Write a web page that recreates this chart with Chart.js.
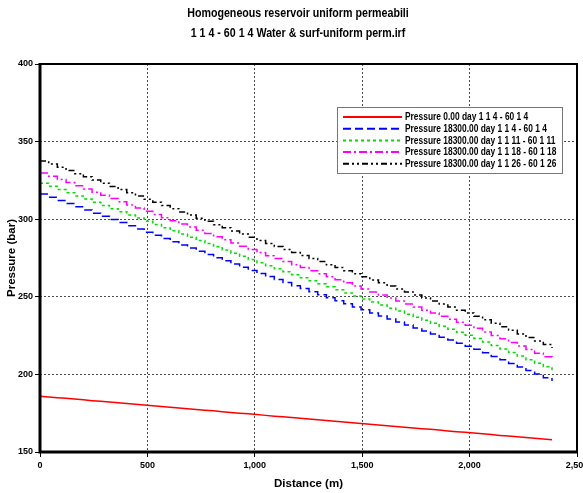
<!DOCTYPE html>
<html>
<head>
<meta charset="utf-8">
<script src="https://cdn.jsdelivr.net/npm/chart.js@4.4.1/dist/chart.umd.min.js"></script>
<style>
  html, body { margin: 0; padding: 0; background: #fff; }
  #wrap { width: 583px; height: 493px; }
</style>
</head>
<body>
<div id="wrap"><canvas id="c" width="583" height="493"></canvas></div>
<script>
const titleLines = ["Homogeneous reservoir uniform permeabili", "1 1 4 - 60 1 4 Water & surf-uniform perm.irf"];
const xTitle = "Distance (m)";
const yTitle = "Pressure (bar)";

const distance = [0, 40.4, 80.8, 121.2, 161.6, 202, 242.4, 282.8, 323.2, 363.6, 404, 444.4, 484.8, 525.2, 565.6, 606, 646.4, 686.8, 727.2, 767.6, 808, 848.4, 888.8, 929.2, 969.6, 1010, 1050.4, 1090.8, 1131.2, 1171.6, 1212, 1252.4, 1292.8, 1333.2, 1373.6, 1414, 1454.4, 1494.8, 1535.2, 1575.6, 1616, 1656.4, 1696.8, 1737.2, 1777.6, 1818, 1858.4, 1898.8, 1939.2, 1979.6, 2020, 2060.4, 2100.8, 2141.2, 2181.6, 2222, 2262.4, 2302.8, 2343.2, 2383.6];

const seriesLabels = [
  "Pressure 0.00 day 1 1 4 - 60 1 4",
  "Pressure 18300.00 day 1 1 4 - 60 1 4",
  "Pressure 18300.00 day 1 1 11 - 60 1 11",
  "Pressure 18300.00 day 1 1 18 - 60 1 18",
  "Pressure 18300.00 day 1 1 26 - 60 1 26"
];

const p0_k4 = [186.0, 185.5, 185.0, 184.6, 184.1, 183.6, 183.1, 182.7, 182.2, 181.7, 181.2, 180.8, 180.3, 179.8, 179.3, 178.9, 178.4, 177.9, 177.4, 176.9, 176.5, 176.0, 175.5, 175.0, 174.6, 174.1, 173.6, 173.1, 172.7, 172.2, 171.7, 171.2, 170.8, 170.3, 169.8, 169.3, 168.8, 168.4, 167.9, 167.4, 166.9, 166.5, 166.0, 165.5, 165.0, 164.6, 164.1, 163.6, 163.1, 162.7, 162.2, 161.7, 161.2, 160.7, 160.3, 159.8, 159.3, 158.8, 158.4, 157.9];

const p18300_k4 = [316.2, 314.2, 312.1, 310.1, 308.0, 306.0, 303.9, 301.9, 299.8, 297.8, 295.7, 293.7, 291.6, 289.6, 287.5, 285.5, 283.4, 281.4, 279.3, 277.3, 275.2, 273.2, 271.1, 269.1, 267.0, 265.0, 263.0, 261.1, 259.2, 257.2, 255.3, 253.3, 251.4, 249.4, 247.5, 245.5, 243.5, 241.6, 239.6, 237.7, 235.7, 233.8, 231.8, 229.9, 227.9, 226.0, 224.0, 222.1, 220.1, 218.2, 216.2, 213.9, 211.6, 209.4, 207.1, 204.8, 202.5, 200.2, 197.9, 195.7];

const p18300_k11 = [323.2, 321.2, 319.1, 317.1, 315.0, 313.0, 310.9, 308.9, 306.8, 304.8, 302.7, 300.7, 298.6, 296.6, 294.5, 292.5, 290.4, 288.4, 286.3, 284.3, 282.2, 280.2, 278.1, 276.1, 274.0, 272.0, 270.0, 268.1, 266.2, 264.2, 262.3, 260.3, 258.4, 256.4, 254.5, 252.5, 250.5, 248.6, 246.6, 244.7, 242.7, 240.8, 238.8, 236.9, 234.9, 233.0, 231.0, 229.1, 227.1, 225.2, 223.2, 220.9, 218.6, 216.4, 214.1, 211.8, 209.5, 207.2, 204.9, 202.7];

const p18300_k18 = [329.7, 327.7, 325.6, 323.6, 321.5, 319.5, 317.4, 315.4, 313.3, 311.3, 309.2, 307.2, 305.1, 303.1, 301.0, 299.0, 296.9, 294.9, 292.8, 290.8, 288.7, 286.7, 284.6, 282.6, 280.5, 278.5, 276.5, 274.6, 272.7, 270.7, 268.8, 266.8, 264.9, 262.9, 261.0, 259.0, 257.0, 255.1, 253.1, 251.2, 249.2, 247.3, 245.3, 243.4, 241.4, 239.5, 237.5, 235.6, 233.6, 231.7, 229.7, 227.4, 225.1, 222.9, 220.6, 218.3, 216.0, 213.7, 211.4, 209.2];

const p18300_k26 = [337.5, 335.5, 333.4, 331.4, 329.3, 327.3, 325.2, 323.2, 321.1, 319.1, 317.0, 315.0, 312.9, 310.9, 308.8, 306.8, 304.7, 302.7, 300.6, 298.6, 296.5, 294.5, 292.4, 290.4, 288.3, 286.3, 284.3, 282.4, 280.5, 278.5, 276.6, 274.6, 272.7, 270.7, 268.8, 266.8, 264.8, 262.9, 260.9, 259.0, 257.0, 255.1, 253.1, 251.2, 249.2, 247.3, 245.3, 243.4, 241.4, 239.5, 237.5, 235.2, 232.9, 230.7, 228.4, 226.1, 223.8, 221.5, 219.2, 217.0];

const seriesValues = [p0_k4, p18300_k4, p18300_k11, p18300_k18, p18300_k26];
const colors = ["#ff0000", "#0000ff", "#00dd00", "#ff00ff", "#000000"];
const dashes = [[], [8, 4], [3, 3], [8, 3, 2, 3], [6, 3, 2, 3, 2, 3]];

const FONT = "'Liberation Sans', Arial, sans-serif";

const datasets = seriesValues.map((vals, i) => ({
  label: seriesLabels[i],
  data: vals.map((v, j) => ({ x: distance[j], y: v })),
  borderColor: colors[i],
  backgroundColor: colors[i],
  borderWidth: 1.5,
  borderDash: dashes[i],
  pointRadius: 0,
  fill: false,
  tension: 0,
  stepped: i === 0 ? false : true
}));

function narrowText(ctx, text, x, y, sx) {
  ctx.save();
  ctx.translate(x, y);
  ctx.scale(sx, 1);
  ctx.fillText(text, 0, 0);
  ctx.restore();
}

const decor = {
  id: 'decor',
  afterDraw(chart) {
    const ctx = chart.ctx;
    const a = chart.chartArea;
    ctx.save();
    ctx.setLineDash([]);
    ctx.strokeStyle = '#000';
    ctx.lineWidth = 2;
    ctx.beginPath();
    ctx.moveTo(a.left, a.top); ctx.lineTo(a.right, a.top); ctx.lineTo(a.right, a.bottom);
    ctx.stroke();
    ctx.lineWidth = 3;
    ctx.beginPath();
    ctx.moveTo(a.left, a.top - 1); ctx.lineTo(a.left, a.bottom); ctx.lineTo(a.right + 1, a.bottom);
    ctx.stroke();

    ctx.fillStyle = '#000';
    ctx.font = "bold 13px " + FONT;
    ctx.textAlign = 'center';
    ctx.textBaseline = 'middle';
    narrowText(ctx, titleLines[0], 298, 13, 0.82);
    narrowText(ctx, titleLines[1], 298, 33, 0.82);

    const lx = 337, ly = 107, lw = 225, lh = 66;
    ctx.fillStyle = '#fff';
    ctx.fillRect(lx, ly, lw, lh);
    ctx.strokeStyle = '#777';
    ctx.lineWidth = 1;
    ctx.strokeRect(lx + 0.5, ly + 0.5, lw, lh);
    ctx.font = "bold 10.5px " + FONT;
    ctx.textAlign = 'left';
    chart.data.datasets.forEach((ds, i) => {
      const y = ly + 10 + i * 11.7;
      ctx.strokeStyle = ds.borderColor;
      ctx.lineWidth = 2;
      ctx.setLineDash(ds.borderDash);
      ctx.beginPath();
      ctx.moveTo(lx + 6, y); ctx.lineTo(lx + 65, y);
      ctx.stroke();
      ctx.setLineDash([]);
      ctx.fillStyle = '#000';
      narrowText(ctx, ds.label, lx + 68, y + 0.5, 0.8);
    });
    ctx.restore();
  }
};

new Chart(document.getElementById('c'), {
  type: 'line',
  data: { datasets },
  options: {
    responsive: false,
    animation: false,
    layout: { padding: { left: 0, right: 6, top: 64, bottom: 0 } },
    plugins: { legend: { display: false }, title: { display: false }, tooltip: { enabled: false } },
    scales: {
      x: {
        type: 'linear',
        min: 0, max: 2500,
        afterFit(s) { s.paddingLeft = 0; s.paddingRight = 0; s.height = 41; },
        ticks: {
          stepSize: 500, color: '#000', padding: 3, maxRotation: 0, autoSkip: false,
          font: { family: FONT, size: 9, weight: 'bold' },
          callback: (v) => v.toLocaleString('en-US')
        },
        grid: { color: 'rgba(0,0,0,0.7)', tickColor: '#000', tickLength: 5, tickBorderDash: [], lineWidth: 1 },
        border: { display: false, dash: [2, 2] },
        title: { display: true, text: xTitle, color: '#000', padding: { top: 0, bottom: 2 }, font: { family: FONT, size: 11.5, weight: 'bold' } }
      },
      y: {
        type: 'linear',
        min: 150, max: 400,
        afterFit(s) { s.paddingTop = 0; s.paddingBottom = 0; s.width = 40; },
        ticks: {
          stepSize: 50, color: '#000', padding: 2,
          font: { family: FONT, size: 9, weight: 'bold' }
        },
        grid: { color: 'rgba(0,0,0,0.7)', tickColor: '#000', tickLength: 5, tickBorderDash: [], lineWidth: 1 },
        border: { display: false, dash: [2, 2] },
        title: { display: true, text: yTitle, color: '#000', padding: { top: 5, bottom: 0 }, font: { family: FONT, size: 11.5, weight: 'bold' } }
      }
    }
  },
  plugins: [decor]
});
</script>
</body>
</html>
